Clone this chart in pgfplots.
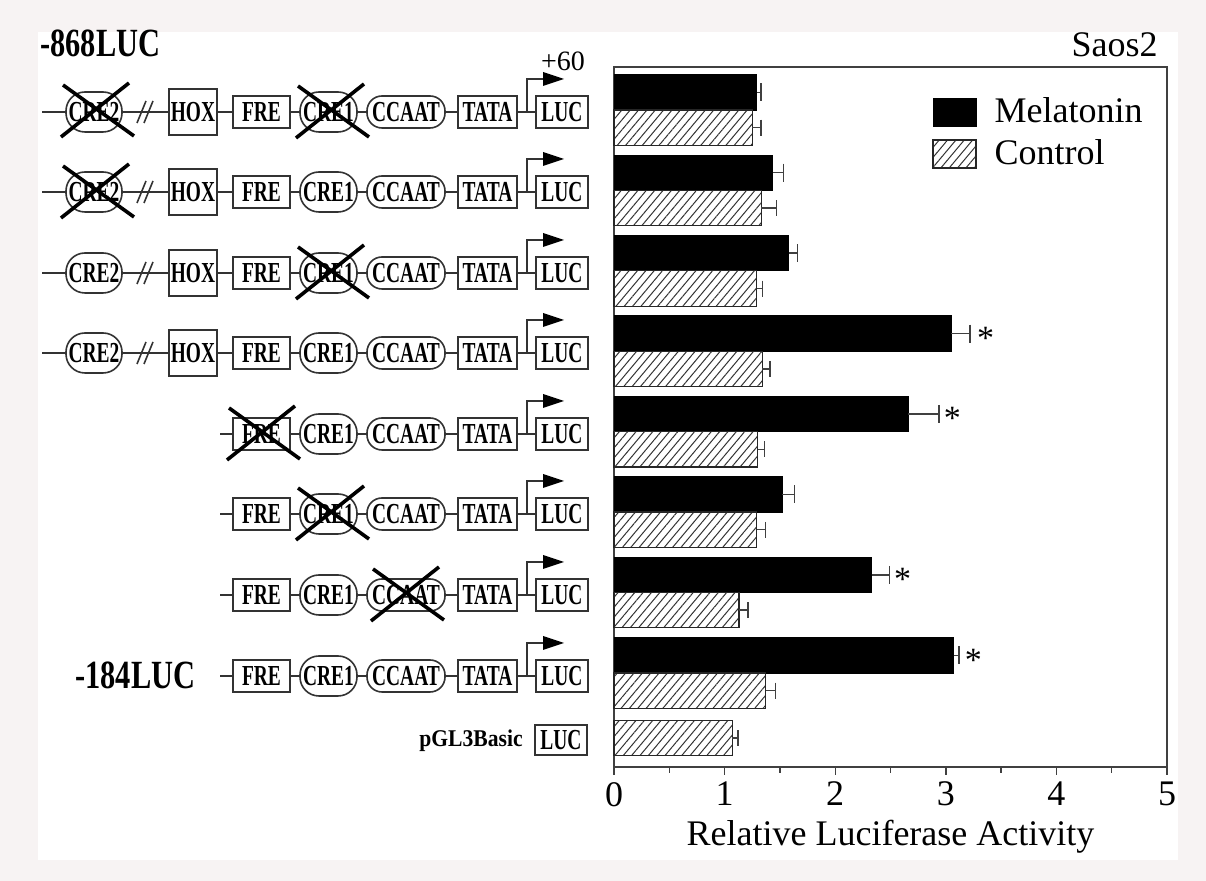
\documentclass[border=0pt]{standalone}
\usepackage{fontspec}
\setmainfont{Liberation Serif}
\usepackage{graphicx}
\usepackage{pgfplots}
\pgfplotsset{compat=1.18}
\usepackage{pgfplotstable}
\usetikzlibrary{patterns.meta}

\definecolor{bgout}{HTML}{F7F3F3}

\pgfplotsset{myleg/.style={legend image code/.code={\draw[##1] (0pt,-7pt) rectangle (21.5pt,7pt);}}}

% Melatonin: y position (group k at k-0.22), value, error (plus side)
\pgfplotstableread{
y x e
0.78 1.29 0.04
1.78 1.435 0.10
2.78 1.58 0.08
3.78 3.05 0.17
4.78 2.66 0.28
5.78 1.52 0.11
6.78 2.33 0.16
7.78 3.07 0.05
}\meldata
% Control
\pgfplotstableread{
y x e
1.22 1.25 0.08
2.22 1.33 0.14
3.22 1.29 0.05
4.22 1.34 0.07
5.22 1.30 0.06
6.22 1.29 0.08
7.22 1.13 0.08
8.22 1.37 0.09
8.81 1.07 0.05
}\ctrldata

\tikzset{
  el/.style={line width=0.8pt, draw=black!80, fill=white},
  bb/.style={line width=0.8pt, draw=black!80}
}
\newcommand{\dt}[1]{\scalebox{0.67}[1]{\fontsize{14.5pt}{14.5pt}\selectfont\bfseries #1}}
\newcommand{\elbox}[5]{%
  \draw[el] (#1,#3-#4) rectangle (#2,#3+#4);
  \node[inner sep=0pt] at ({(#1+#2)/2},#3) {\dt{#5}};}
\newcommand{\eloval}[6]{%
  \draw[el, rounded corners=#5] (#1,#3-#4) rectangle (#2,#3+#4);
  \node[inner sep=0pt] at ({(#1+#2)/2},#3) {\dt{#6}};}
\newcommand{\common}[1]{%
  \elbox{233}{290}{#1}{16}{FRE}
  \eloval{300}{357}{#1}{20}{9.5pt}{CRE1}
  \eloval{367}{445}{#1}{16}{7.5pt}{CCAAT}
  \elbox{458}{517}{#1}{16}{TATA}
  \elbox{536}{588}{#1}{16}{LUC}
  \draw[bb] (527,#1) -- (527,#1-33) -- (545,#1-33);
  \fill[black] (543,#1-40) -- (564,#1-33) -- (543,#1-26) -- cycle;}
\newcommand{\fullrow}[1]{%
  \draw[bb] (42,#1) -- (536,#1);
  \eloval{66}{122}{#1}{20}{9.5pt}{CRE2}
  \draw[bb] (137,#1+11) -- (146,#1-11) (144,#1+11) -- (153,#1-11);
  \elbox{169}{217}{#1}{23}{HOX}
  \common{#1}}
\newcommand{\shortrow}[1]{%
  \draw[bb] (220,#1) -- (536,#1);
  \common{#1}}
\newcommand{\xx}[2]{%
  \draw[line width=1.8pt, black] (#1-35,#2+26) -- (#1+33,#2-28) (#1-33,#2-26) -- (#1+38,#2+25);}

\begin{document}
\begin{tikzpicture}
\fill[bgout] (0,0) rectangle (603pt,440.5pt);
\begin{scope}[x=0.5pt, y=-0.5pt, shift={(0pt,440.5pt)}]
  \fill[white] (38,32) rectangle (1178,860);
  % construct diagrams
  \fullrow{112}
  \fullrow{192}
  \fullrow{273}
  \fullrow{353}
  \shortrow{434}
  \shortrow{514}
  \shortrow{595}
  \shortrow{676}
  \elbox{535}{587}{740}{15}{LUC}
  % deletions
  \xx{96}{111}
  \xx{331}{112}
  \xx{96}{192}
  \xx{331}{273}
  \xx{262}{434}
  \xx{331}{514}
  \xx{406}{595}
  % labels
  \node[inner sep=0pt, anchor=base west] at (40,57)
    {\scalebox{0.76}[1]{\fontsize{20pt}{20pt}\selectfont\bfseries -868LUC}};
  \node[inner sep=0pt, anchor=base west] at (75,689)
    {\scalebox{0.76}[1]{\fontsize{20pt}{20pt}\selectfont\bfseries -184LUC}};
  \node[inner sep=0pt, anchor=base east] at (523,747)
    {\scalebox{0.9}[1]{\fontsize{12pt}{12pt}\selectfont\bfseries pGL3Basic}};
  \node[inner sep=0pt, anchor=base] at (563,71)
    {\fontsize{14pt}{14pt}\selectfont +60};
\end{scope}

\begin{axis}[
  at={(307pt,57pt)}, anchor=south west,
  scale only axis, width=276.5pt, height=350pt,
  xmin=0, xmax=5, ymin=0.465, ymax=9.17, y dir=reverse,
  xtick={0,1,2,3,4,5}, minor xtick={0.5,1.5,2.5,3.5,4.5}, ytick=\empty,
  xtick pos=left, xtick align=outside,
  major tick length=4pt, minor tick length=3pt,
  tick style={black!75, line width=0.7pt},
  axis line style={black!75, line width=0.8pt},
  ticklabel style={font=\fontsize{18pt}{18pt}\selectfont},
  /pgf/number format/assume math mode=true,
  xlabel={Relative Luciferase Activity},
  xlabel style={font=\fontsize{18pt}{18pt}\selectfont},
  title={Saos2},
  title style={at={(1,1)}, anchor=base east, yshift=-1pt, xshift=-4.5pt, inner sep=0pt,
    font=\fontsize{18pt}{18pt}\selectfont},
  legend style={at={(0.575,0.962)}, anchor=north west, draw=none, fill=none,
    font=\fontsize{18pt}{18pt}\selectfont, row sep=3pt, inner sep=0pt,
    /tikz/every odd column/.append style={column sep=7pt}},
  legend cell align=left,
  clip=false,
]
\addplot[xbar, bar shift=0pt, bar width=0.44, fill=black, draw=black, myleg,
  error bars/.cd, x dir=plus, x explicit, error mark=|,
  error bar style={line width=0.7pt, black!75},
  error mark options={line width=0.7pt, black!75, mark size=4.5pt}]
  table[x=x, y=y, x error=e] {\meldata};
\addlegendentry{Melatonin}
\addplot[xbar, bar shift=0pt, bar width=0.44, draw=black!85, line width=0.6pt,
  pattern={Lines[angle=50, distance=3.2pt, line width=0.5pt]}, pattern color=black!80,
  myleg,
  error bars/.cd, x dir=plus, x explicit, error mark=|,
  error bar style={line width=0.7pt, black!75},
  error mark options={line width=0.7pt, black!75, mark size=4pt}]
  table[x=x, y=y, x error=e] {\ctrldata};
\addlegendentry{Control}
\node[font=\fontsize{17pt}{17pt}\selectfont] at (axis cs:3.36,3.84) {*};
\node[font=\fontsize{17pt}{17pt}\selectfont] at (axis cs:3.06,4.84) {*};
\node[font=\fontsize{17pt}{17pt}\selectfont] at (axis cs:2.61,6.84) {*};
\node[font=\fontsize{17pt}{17pt}\selectfont] at (axis cs:3.25,7.84) {*};
\end{axis}
\end{tikzpicture}
\end{document}
